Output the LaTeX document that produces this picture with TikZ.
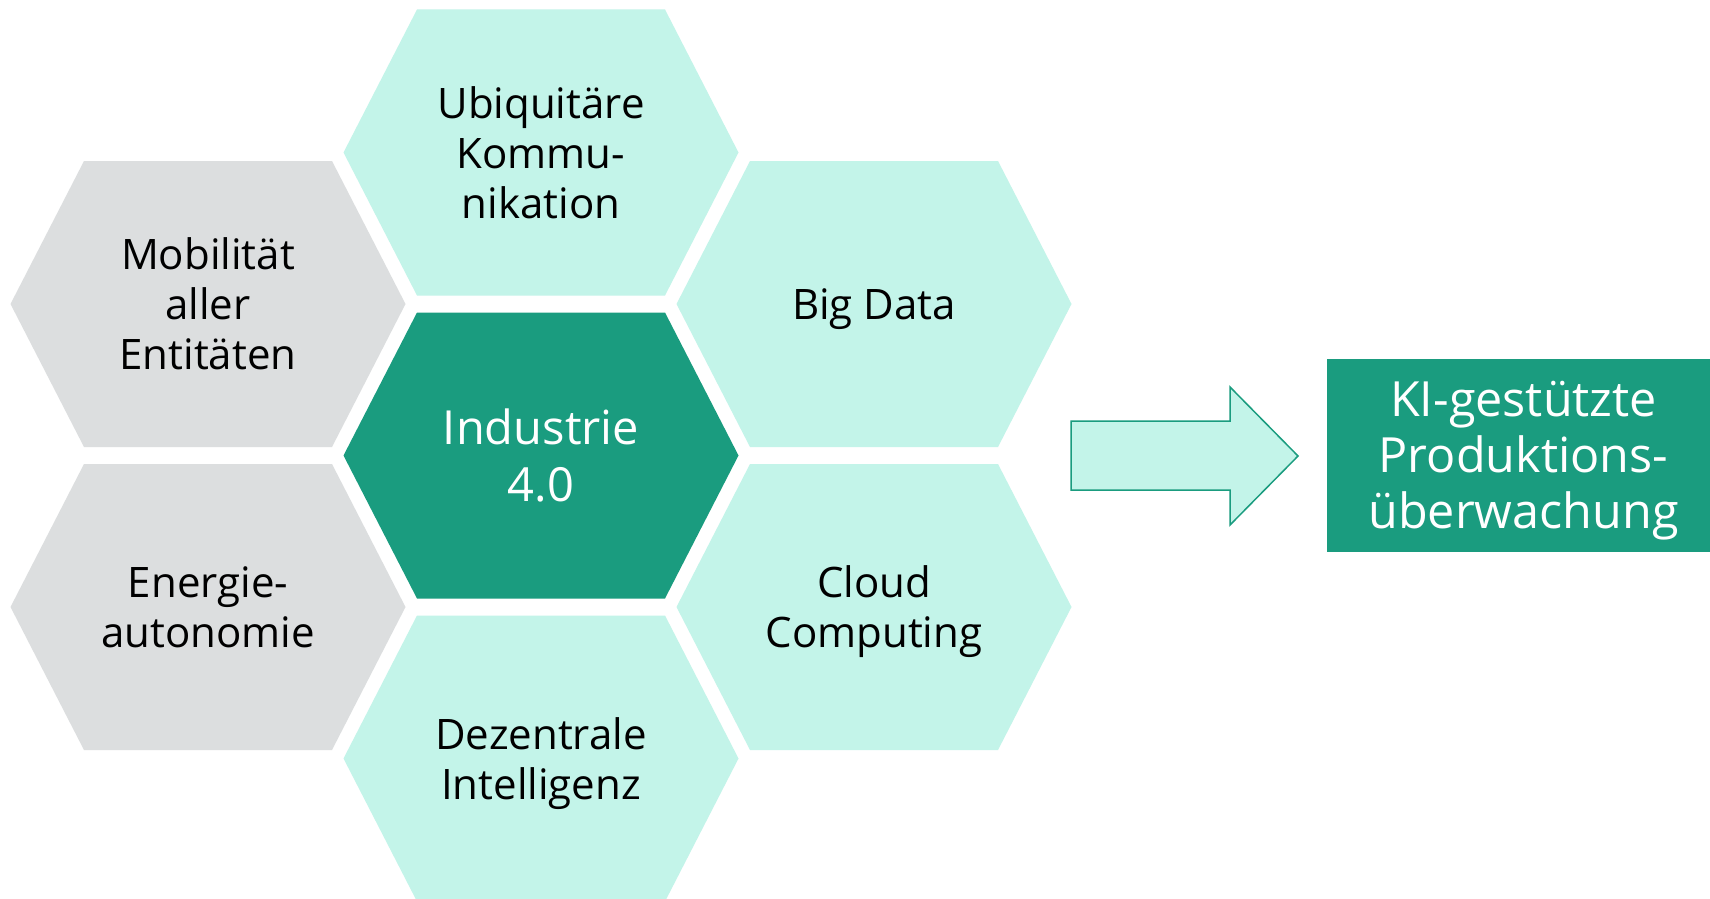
\documentclass[tikz,border=0pt]{standalone}
\usepackage{fontspec}
\setmainfont{Open Sans}
\definecolor{mint}{HTML}{C3F4E9}
\definecolor{dgreen}{HTML}{1A9C7F}
\definecolor{lgray}{HTML}{DCDEDF}
\tikzset{
  hextext/.style={align=center, font=\fontsize{42}{50}\selectfont, text=black, inner sep=0pt},
  coretext/.style={align=center, font=\fontsize{47}{57}\selectfont, text=white, inner sep=0pt},
  desc/.style={yshift=-5pt},
  arrowshape/.style={draw=dgreen, fill=mint, line width=1.5pt, line join=miter},
  resultbox/.style={fill=dgreen, minimum width=383pt, minimum height=193pt, inner sep=0pt},
  resulttext/.style={text=white, align=center, inner sep=0pt,
    font=\fontsize{48.5}{56}\selectfont},
}
\newcommand\hexcell[4]{% cx, cy, colour, name
  \fill[#3] ({#1-197.5},{#2}) -- ({#1-124},{#2-143}) -- ({#1+124},{#2-143})
     -- ({#1+197.5},{#2}) -- ({#1+124},{#2+143}) -- ({#1-124},{#2+143}) -- cycle;
  \coordinate (#4) at (#1,#2);}
\begin{document}
\begin{tikzpicture}[x=1pt,y=-1pt]
\useasboundingbox (0,0) rectangle (1710,899);
\fill[white] (0,0) rectangle (1710,899);
% hexagons
\hexcell{541}{152.5}{mint}{hU}
\hexcell{208}{304}{lgray}{hM}
\hexcell{874}{304}{mint}{hB}
\hexcell{541}{455.5}{dgreen}{hI}
\hexcell{208}{607}{lgray}{hE}
\hexcell{874}{607}{mint}{hC}
\hexcell{541}{758.5}{mint}{hD}
% texts
\node[hextext] (tU) at (hU) {Ubiquitäre\\Kommu-\\nikation};
\node[hextext] (tM) at (hM) {Mobilität\\aller\\Entitäten};
\node[hextext, desc] (tB) at (hB) {Big Data};
\node[coretext] (tI) at (hI) {Industrie\\4.0};
\node[hextext] (tE) at (hE) {Energie-\\autonomie};
\node[hextext, desc] (tC) at (hC) {Cloud\\Computing};
\node[hextext, desc] (tD) at (hD) {Dezentrale\\Intelligenz};
% result box
\node[resultbox] (res) at (1518.5,455.5) {};
\node[resulttext, xshift=5pt, yshift=-5.5pt] (restext) at (res.center) {KI-gestützte\\Produktions-\\überwachung};
% block arrow
\coordinate (a1) at (1071,421);
\coordinate (a2) at (1230,421);
\coordinate (a3) at (1230,387);
\coordinate (tip) at (1298,456);
\coordinate (a5) at (1230,525);
\coordinate (a6) at (1230,490);
\coordinate (a7) at (1071,490);
\draw[arrowshape] (a1) -- (a2) -- (a3) -- (tip) -- (a5) -- (a6) -- (a7) -- cycle;
\end{tikzpicture}
\end{document}
